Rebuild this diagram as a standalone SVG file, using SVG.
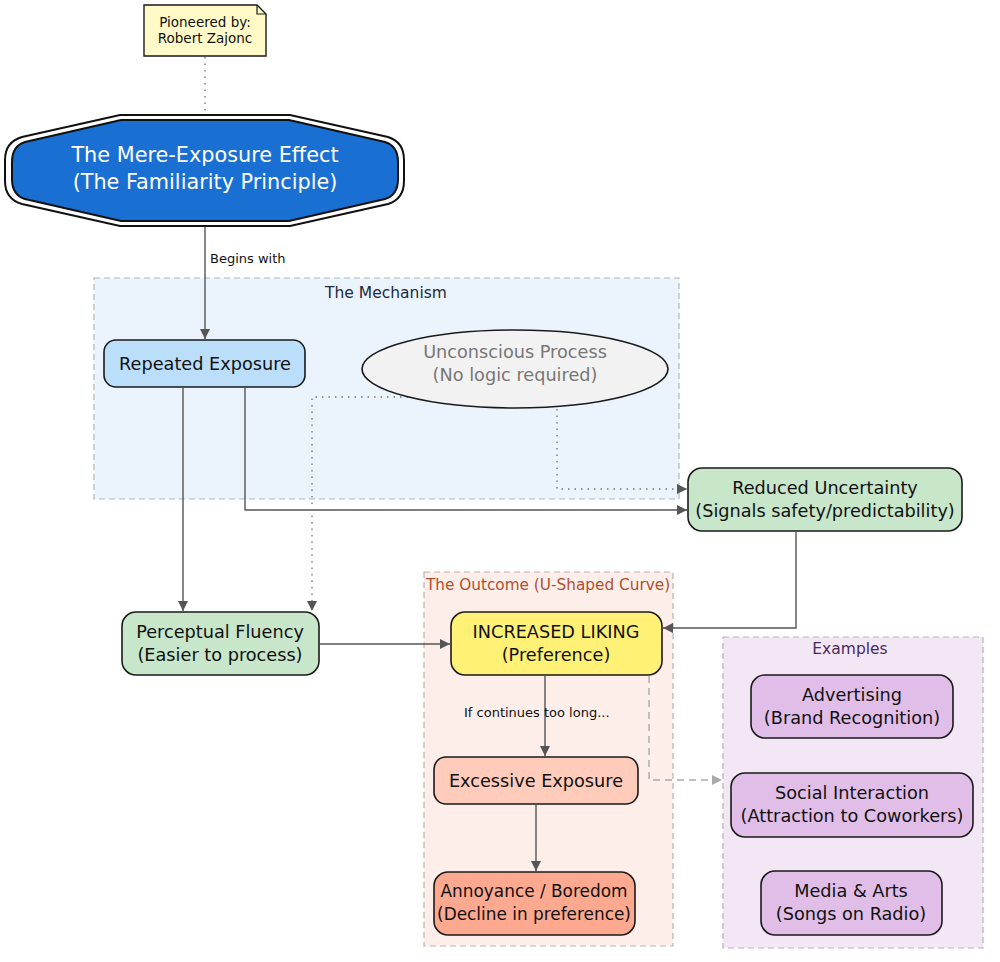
<svg xmlns="http://www.w3.org/2000/svg" width="1000" height="962" viewBox="0 0 1000 962">
<defs>
<style>
text{font-family:"DejaVu Sans",Verdana,sans-serif;text-anchor:middle;fill:#111}
.node{stroke:#1a1a1a;stroke-width:1.6}
.t{font-size:17.7px}
.s{font-size:16.9px}
.cl{stroke:#b5b5b5;stroke-width:1.2;stroke-dasharray:6 4}
.e{fill:none;stroke:#555;stroke-width:1.4}
.dot{fill:none;stroke:#777;stroke-width:1.4;stroke-dasharray:1.5 5}
.dash{fill:none;stroke:#aaa;stroke-width:1.4;stroke-dasharray:7 5}
.lbl{font-size:13px;text-anchor:start}
</style>
<marker id="ah" viewBox="0 0 10 10" refX="10" refY="5" markerWidth="12" markerHeight="10" markerUnits="userSpaceOnUse" orient="auto"><path d="M0,0L10,5L0,10z" fill="#555"/></marker>
<marker id="ahl" viewBox="0 0 10 10" refX="10" refY="5" markerWidth="12" markerHeight="10" markerUnits="userSpaceOnUse" orient="auto"><path d="M0,0L10,5L0,10z" fill="#aaa"/></marker>
</defs>
<rect width="1000" height="962" fill="#fff"/>
<g id="cluster-mechanism">
<rect x="94" y="278" width="585" height="221" fill="#ebf4fd" class="cl"/>
<text x="386" y="298" style="font-size:15.5px;fill:#1b2b3b">The Mechanism</text>
</g>
<g id="cluster-outcome">
<rect x="424" y="572" width="249" height="374" fill="#fdeeea" class="cl"/>
<text x="548" y="590" style="font-size:15.3px;fill:#b0502c">The Outcome (U-Shaped Curve)</text>
</g>
<g id="cluster-examples">
<rect x="723" y="637" width="260" height="311" fill="#f3e7f6" class="cl"/>
<text x="850" y="654" style="font-size:15.5px;fill:#4a2a5a">Examples</text>
</g>
<g id="connectors">
<path class="dot" d="M205,57V115"/>
<path class="e" d="M205,226V339" marker-end="url(#ah)"/>
<text class="lbl" x="210" y="263">Begins with</text>
<path class="e" d="M183,388V611" marker-end="url(#ah)"/>
<path class="e" d="M245,388V510H687" marker-end="url(#ah)"/>
<path class="dot" d="M557,409V489H687" marker-end="url(#ah)"/>
<path class="dot" d="M408,397H312V611" marker-end="url(#ah)"/>
<path class="e" d="M320,644H450" marker-end="url(#ah)"/>
<path class="e" d="M796,532V628H663" marker-end="url(#ah)"/>
<path class="e" d="M545,676V756" marker-end="url(#ah)"/>
<text class="lbl" x="464" y="717">If continues too long...</text>
<path class="e" d="M536,805V871" marker-end="url(#ah)"/>
<path class="dash" d="M649,676V780H722" marker-end="url(#ahl)"/>
</g>
<g id="note">
<path d="M144,5H257L266,14V56H144Z" fill="#fffac8" stroke="#1a1a1a" stroke-width="1.4"/>
<path d="M257,5V14H266" fill="none" stroke="#1a1a1a" stroke-width="1.2"/>
<text x="205" y="27" style="font-size:13.5px">Pioneered by:</text>
<text x="205" y="43" style="font-size:13.5px">Robert Zajonc</text>
</g>
<g id="main">
<path d="M120,115H290L388,137Q404,142 404,160V181Q404,199 388,204L290,226H120L22,204Q5,199 5,181V160Q5,142 22,137Z" fill="#fff" stroke="#111" stroke-width="2"/>
<path d="M121,120H289L385,142Q398,146 398,162V179Q398,195 385,199L289,221H121L25,199Q12,195 12,179V162Q12,146 25,142Z" fill="#1a6fd2" stroke="#111" stroke-width="2"/>
<text x="205" y="162" style="font-size:20.8px;fill:#fff">The Mere-Exposure Effect</text>
<text x="205" y="189" style="font-size:20.8px;fill:#fff">(The Familiarity Principle)</text>
</g>
<g id="repeated">
<rect class="node" x="104" y="340" width="201" height="47" rx="12" fill="#bbdefb"/>
<text class="t" x="205" y="370">Repeated Exposure</text>
</g>
<g id="unconscious">
<ellipse class="node" cx="515" cy="369" rx="153" ry="39" fill="#f2f2f2"/>
<text class="t" x="515" y="358" style="fill:#777">Unconscious Process</text>
<text class="t" x="515" y="381" style="fill:#777">(No logic required)</text>
</g>
<g id="uncertainty">
<rect class="node" x="688" y="468" width="274" height="63" rx="14" fill="#c8e6c9"/>
<text class="t" x="825" y="494">Reduced Uncertainty</text>
<text class="t" x="825" y="517">(Signals safety/predictability)</text>
</g>
<g id="fluency">
<rect class="node" x="122" y="612" width="197" height="63" rx="14" fill="#c8e6c9"/>
<text class="t" x="220" y="638">Perceptual Fluency</text>
<text class="t" x="220" y="661">(Easier to process)</text>
</g>
<g id="liking">
<rect class="node" x="451" y="612" width="211" height="63" rx="14" fill="#fff176"/>
<text class="t" x="556" y="638">INCREASED LIKING</text>
<text class="t" x="556" y="661">(Preference)</text>
</g>
<g id="excessive">
<rect class="node" x="434" y="757" width="204" height="47" rx="12" fill="#ffccbc"/>
<text class="t" x="536" y="787">Excessive Exposure</text>
</g>
<g id="annoyance">
<rect class="node" x="434" y="872" width="201" height="63" rx="14" fill="#fca98f"/>
<text class="t s" x="534" y="897">Annoyance / Boredom</text>
<text class="t s" x="534" y="920">(Decline in preference)</text>
</g>
<g id="advertising">
<rect class="node" x="751" y="675" width="202" height="63" rx="14" fill="#e1bee7"/>
<text class="t" x="852" y="701">Advertising</text>
<text class="t" x="852" y="724">(Brand Recognition)</text>
</g>
<g id="social">
<rect class="node" x="731" y="773" width="242" height="64" rx="14" fill="#e1bee7"/>
<text class="t" x="852" y="799">Social Interaction</text>
<text class="t" x="852" y="822">(Attraction to Coworkers)</text>
</g>
<g id="media">
<rect class="node" x="761" y="871" width="181" height="64" rx="14" fill="#e1bee7"/>
<text class="t" x="851" y="897">Media &amp; Arts</text>
<text class="t" x="851" y="920">(Songs on Radio)</text>
</g>
</svg>
